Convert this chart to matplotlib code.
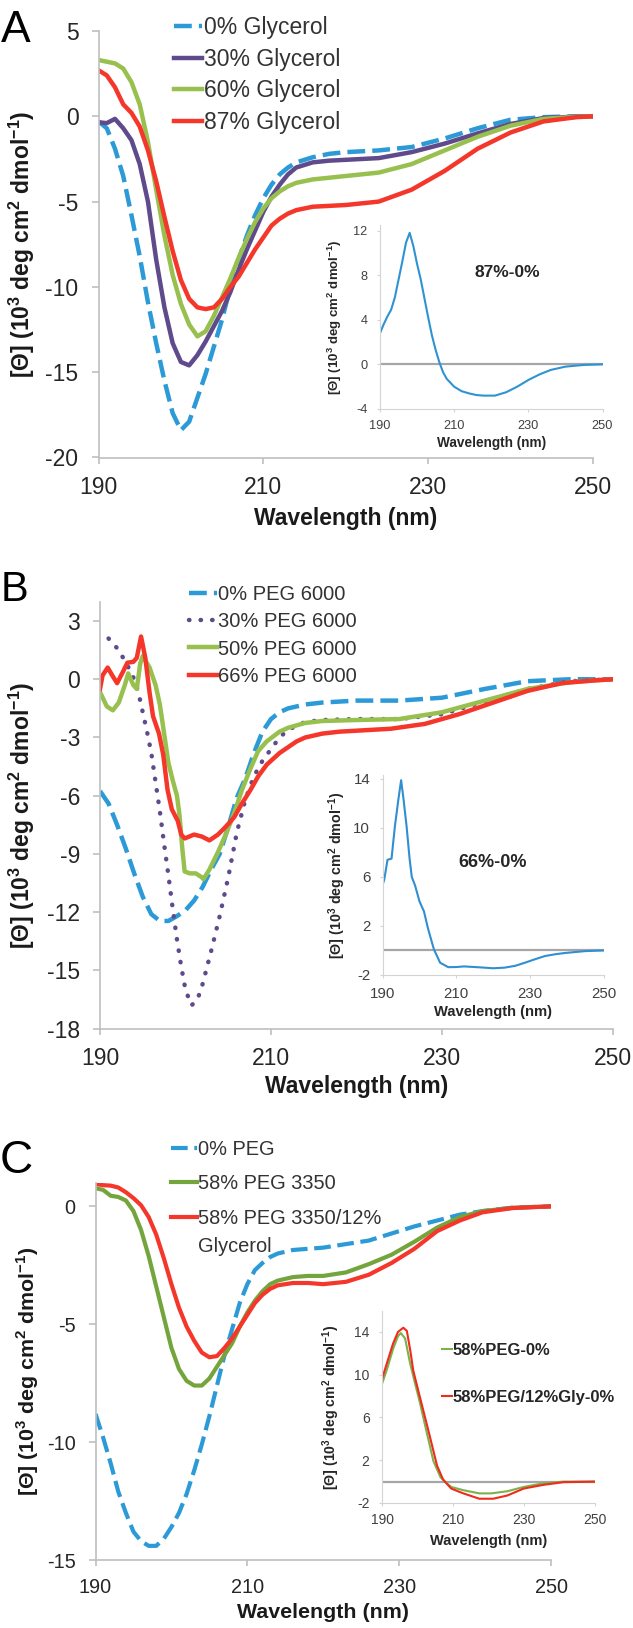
import matplotlib
matplotlib.use('Agg')
import matplotlib.pyplot as plt

plt.rcParams['font.family'] = ['Liberation Sans', 'DejaVu Sans']
plt.rcParams['axes.unicode_minus'] = False
plt.rcParams['mathtext.fontset'] = 'custom'
plt.rcParams['mathtext.rm'] = 'Liberation Sans'
plt.rcParams['mathtext.bf'] = 'Liberation Sans:bold'

# ---------------- panel A : glycerol ----------------
wl_a = [190, 191, 192, 193, 194, 195, 196, 197, 198, 199, 200, 201, 202, 203, 204, 205,
        206, 207, 208, 209, 210, 211, 212, 213, 214, 216, 218, 220, 224, 228, 232, 236,
        240, 244, 248, 250]
gly0 = [-0.3, -0.7, -1.9, -3.5, -5.8, -8.2, -10.9, -13.3, -15.5, -17.4, -18.4, -17.9, -16.5,
        -15.1, -13.5, -11.9, -10.0, -8.4, -7.0, -5.8, -4.8, -4.0, -3.4, -3.0, -2.7, -2.4,
        -2.2, -2.1, -2.0, -1.8, -1.3, -0.7, -0.2, -0.05, 0.0, 0.0]
gly30 = [-0.35, -0.4, -0.15, -0.7, -1.4, -2.8, -5.0, -8.4, -11.2, -13.3, -14.4, -14.6, -14.0,
         -13.2, -12.3, -11.4, -10.3, -9.0, -7.8, -6.7, -5.6, -4.7, -4.0, -3.4, -3.0, -2.7,
         -2.6, -2.55, -2.45, -2.1, -1.6, -1.0, -0.45, -0.1, -0.02, 0.0]
gly60 = [3.3, 3.2, 3.1, 2.8, 2.0, 0.7, -1.5, -4.3, -7.0, -9.3, -11.0, -12.2, -12.9, -12.6,
         -11.7, -10.6, -9.5, -8.3, -7.2, -6.2, -5.4, -4.8, -4.4, -4.1, -3.9, -3.7, -3.6,
         -3.5, -3.3, -2.8, -2.0, -1.2, -0.55, -0.15, -0.03, 0.0]
gly87 = [2.7, 2.4, 1.7, 0.7, 0.2, -0.6, -2.0, -3.8, -5.9, -7.9, -9.6, -10.7, -11.2, -11.3,
         -11.2, -10.7, -10.0, -9.4, -8.6, -7.8, -7.1, -6.4, -6.0, -5.7, -5.5, -5.3, -5.25,
         -5.2, -5.0, -4.3, -3.2, -1.9, -0.95, -0.3, -0.05, 0.0]
wl_ai = [190, 191, 192, 193, 194, 195, 196, 197, 198, 199, 200, 201, 202, 203, 204, 205, 206,
         207, 208, 210, 212, 214, 216, 218, 221, 224, 227, 230, 233, 236, 240, 245, 250]
diff_a = [2.8, 3.6, 4.3, 4.9, 6.0, 7.6, 9.2, 10.9, 11.8, 10.6, 9.0, 7.6, 5.9, 4.2, 2.6, 1.3,
          0.2, -0.7, -1.3, -2.0, -2.4, -2.6, -2.75, -2.8, -2.8, -2.5, -2.0, -1.4, -0.9, -0.5,
          -0.2, -0.05, 0.0]

# ---------------- panel B : PEG 6000 ----------------
wl_b0 = [190, 191, 192, 193, 194, 195, 196, 197, 198, 199, 200, 201, 202, 203, 204, 205, 206,
         207, 208, 209, 210, 211, 212, 214, 216, 220, 225, 230, 235, 240, 245, 250]
peg0 = [-5.76, -6.4, -7.5, -8.7, -10.0, -11.2, -12.1, -12.45, -12.45, -12.2, -11.9, -11.4,
        -10.7, -9.8, -9.0, -7.6, -6.1, -5.1, -3.8, -2.7, -2.05, -1.7, -1.5, -1.3, -1.2, -1.1,
        -1.1, -0.95, -0.5, -0.1, 0.0, 0.0]
wl_b30 = [191, 192, 193, 194, 194.5, 195, 195.5, 196, 196.5, 197, 197.5, 198, 198.5, 199,
          199.5, 200, 200.7, 201.4, 202, 203, 204, 205, 206, 207, 208, 209, 210, 211, 212,
          214, 216, 220, 225, 230, 235, 240, 245, 250]
peg30 = [2.1, 1.6, 0.9, 0.0, -0.7, -1.7, -2.7, -3.8, -5.3, -6.8, -8.5, -10.1, -11.8, -13.4,
         -14.8, -16.0, -16.8, -16.5, -15.7, -14.0, -12.2, -10.2, -7.9, -6.2, -5.0, -4.2, -3.6,
         -3.0, -2.6, -2.2, -2.1, -2.05, -2.05, -1.8, -1.15, -0.5, -0.1, 0.0]
wl_b50 = [190, 190.8, 191.5, 192.2, 192.9, 193.3, 193.9, 194.3, 194.7, 195, 195.8, 196.5, 197,
          197.5, 198, 198.5, 199, 199.3, 199.6, 199.9, 200.5, 201.2, 201.9, 202.1, 202.8,
          203.8, 204.7, 205.7, 206.6, 207.6, 208.5, 209.5, 211, 212, 214, 216, 220, 225, 230,
          235, 240, 245, 250]
peg50 = [-0.66, -1.4, -1.6, -1.2, -0.3, 0.3, -0.3, -0.5, 0.8, 1.2, 0.6, -0.3, -1.3, -2.8,
         -4.3, -5.2, -6.0, -7.0, -8.6, -9.9, -10.0, -10.0, -10.2, -10.3, -9.8, -8.9, -8.0,
         -6.9, -5.7, -4.6, -3.7, -3.2, -2.7, -2.5, -2.25, -2.15, -2.1, -2.05, -1.7, -1.1,
         -0.5, -0.15, 0.0]
wl_b66 = [190, 190.3, 190.9, 191.5, 192, 192.7, 193.2, 193.9, 194.3, 194.8, 195.3, 195.8,
          196.2, 196.9, 197.4, 197.9, 198.4, 199.1, 199.5, 199.9, 201, 201.9, 202.8, 203.8,
          204.7, 205.7, 206.6, 207.6, 208.5, 209.5, 210, 211, 212, 213, 214, 216, 218, 220,
          224, 228, 232, 236, 240, 244, 248, 250]
peg66 = [-0.5, 0.2, 0.6, 0.15, -0.2, 0.4, 0.85, 0.9, 1.1, 2.2, 1.1, -0.7, -1.9, -2.8, -3.9,
         -5.7, -6.7, -7.3, -8.0, -8.2, -8.0, -8.1, -8.3, -8.0, -7.6, -7.1, -6.4, -5.7, -5.0,
         -4.4, -4.2, -3.8, -3.5, -3.2, -3.0, -2.8, -2.7, -2.65, -2.55, -2.3, -1.8, -1.2,
         -0.6, -0.2, -0.05, 0.0]
wl_bi = [190, 190.4, 191.3, 192.4, 193.3, 194.2, 195, 195.6, 196.5, 197.3, 197.9, 198.8, 200,
         201.2, 202.3, 203.9, 205.6, 207.8, 210, 212.1, 215, 217.6, 220, 223.1, 226, 228.6,
         231, 234.1, 237, 239.6, 245, 250]
diff_b = [5.4, 5.75, 7.4, 7.5, 10.1, 12.2, 13.9, 12.5, 10.1, 7.5, 6.0, 5.3, 4.0, 3.2, 1.8,
          0.1, -1.0, -1.36, -1.35, -1.3, -1.35, -1.4, -1.45, -1.4, -1.25, -1.0, -0.75, -0.45,
          -0.3, -0.2, -0.05, 0.0]

# ---------------- panel C : PEG 3350 ----------------
wl_c = [190, 191, 192, 193, 194, 195, 196, 197, 198, 199, 200, 201, 202, 203, 204, 205, 206,
        207, 208, 209, 210, 211, 212, 213, 214, 216, 218, 220, 223, 226, 229, 232, 235, 238,
        241, 245, 250]
c_peg0 = [-8.8, -9.8, -10.9, -12.1, -13.0, -13.8, -14.2, -14.4, -14.4, -14.1, -13.6, -13.0,
          -12.2, -11.2, -10.1, -8.9, -7.6, -6.3, -5.2, -4.1, -3.3, -2.7, -2.4, -2.15, -2.0,
          -1.85, -1.8, -1.75, -1.6, -1.45, -1.15, -0.85, -0.6, -0.35, -0.2, -0.05, 0.0]
c_peg58 = [0.77, 0.7, 0.45, 0.4, 0.25, -0.2, -1.0, -2.1, -3.4, -4.7, -6.0, -6.9, -7.4, -7.6,
           -7.6, -7.3, -6.8, -6.3, -5.8, -5.1, -4.5, -4.0, -3.6, -3.3, -3.15, -3.0, -2.95,
           -2.95, -2.8, -2.45, -2.05, -1.5, -0.9, -0.45, -0.2, -0.06, 0.0]
c_peg58g = [0.95, 0.9, 0.88, 0.8, 0.6, 0.35, 0.05, -0.45, -1.2, -2.2, -3.3, -4.3, -5.1, -5.7,
            -6.2, -6.4, -6.35, -6.0, -5.6, -5.1, -4.6, -4.1, -3.75, -3.5, -3.35, -3.25, -3.25,
            -3.3, -3.2, -2.9, -2.4, -1.8, -1.05, -0.6, -0.25, -0.07, 0.0]
wl_cg = [190, 191.4, 193.1, 194.5, 195.3, 196.5, 197.9, 199, 200.7, 202.6, 204.5, 206.5, 208,
         209.5, 212.9, 217.4, 220.8, 225.3, 229.9, 235.5, 241.2, 250]
diff_c1 = [9.15, 10.5, 12.4, 13.6, 13.9, 13.4, 11.1, 9.6, 7.35, 4.6, 1.9, 0.4, -0.1, -0.5,
           -0.8, -1.1, -1.1, -0.9, -0.5, -0.15, 0.0, 0.0]
wl_cr = [190, 191.4, 193.1, 194.5, 196, 197, 198, 198.8, 200, 201.6, 203.5, 205.5, 207.2,
         209.5, 212.9, 217.4, 221.3, 225.3, 229.9, 235.5, 241.2, 250]
diff_c2 = [9.6, 11.1, 12.9, 14.0, 14.4, 14.1, 12.2, 10.4, 8.8, 6.7, 4.2, 1.5, 0.2, -0.65,
           -1.1, -1.6, -1.6, -1.3, -0.65, -0.3, -0.05, 0.0]

BLUE = '#2b9ad6'
PURPLE = '#5f4a8b'
GREEN = '#98c04e'
RED = '#f4372a'
GREEN_C = '#74a53c'
DASH = (0, (4, 1.6))
DOT = (0, (0.1, 2.5))

W, H = 633, 1628
fig = plt.figure(figsize=(W / 100, H / 100), dpi=100)

YLAB = r'[Θ] (10$^{\mathbf{3}}$ deg cm$^{\mathbf{2}}$ dmol$^{\mathbf{-1}}$)'


def box(x0, x1, ytop, ybot):
    return [x0 / W, 1 - ybot / H, (x1 - x0) / W, (ybot - ytop) / H]


def style_main(ax, fs, ylab_x, xlab_y, lab_fs):
    for s in ['top', 'right']:
        ax.spines[s].set_visible(False)
    for s in ['left', 'bottom']:
        ax.spines[s].set_color('#bfbfbf')
        ax.spines[s].set_linewidth(1.2)
    ax.tick_params(colors='#bfbfbf', labelcolor='#262626', labelsize=fs, width=1.2)
    ax.tick_params(axis='x', length=4.1, pad=9)
    ax.tick_params(axis='y', length=4.8, pad=9.6)
    ax.set_xlim(190, 250)
    ax.set_xticks([190, 210, 230, 250])
    ax.set_xlabel('Wavelength (nm)', fontsize=lab_fs, fontweight='bold', color='#1a1a1a')
    ax.set_ylabel(YLAB, fontsize=lab_fs, fontweight='bold', color='#1a1a1a')
    ax.xaxis.set_label_coords(0.5, xlab_y)
    ax.xaxis.label.set_va('center')
    ax.yaxis.set_label_coords(ylab_x, 0.5)
    ax.yaxis.label.set_va('center')


def style_inset(ax, fs, lab_fs, ylab_x, xlab_y, xpad):
    for s in ['top', 'right']:
        ax.spines[s].set_visible(False)
    for s in ['left', 'bottom']:
        ax.spines[s].set_color('#d4d4d4')
        ax.spines[s].set_linewidth(0.8)
    ax.tick_params(colors='#d4d4d4', labelcolor='#404040', labelsize=fs, width=0.8, length=2.5)
    ax.tick_params(axis='x', pad=xpad)
    ax.tick_params(axis='y', pad=6.5)
    ax.set_xlim(190, 250)
    ax.set_xticks([190, 210, 230, 250])
    ax.axhline(0, color='#a6a6a6', lw=1.6, zorder=1)
    ax.set_xlabel('Wavelength (nm)', fontsize=lab_fs, fontweight='bold', color='#262626')
    ax.set_ylabel(YLAB, fontsize=lab_fs - 0.3, fontweight='bold', color='#262626')
    ax.xaxis.set_label_coords(0.5, xlab_y)
    ax.xaxis.label.set_va('center')
    ax.yaxis.set_label_coords(ylab_x, 0.5)
    ax.yaxis.label.set_va('center')
    ax.patch.set_alpha(0)


# ---------- A ----------
axA = fig.add_axes(box(98.5, 593, 31, 457.5))
axA.plot(wl_a, gly0, color=BLUE, lw=3.2, ls=DASH, label='0% Glycerol')
axA.plot(wl_a, gly30, color=PURPLE, lw=3.2, label='30% Glycerol')
axA.plot(wl_a, gly60, color=GREEN, lw=3.2, label='60% Glycerol')
axA.plot(wl_a, gly87, color=RED, lw=3.2, label='87% Glycerol')
axA.set_ylim(-20, 5)
axA.set_yticks([5, 0, -5, -10, -15, -20])
style_main(axA, 16.5, -0.1547, -0.1419, 16.5)
leg = axA.legend(loc='upper left', bbox_to_anchor=(174 / W, 1 - 16 / H),
                 bbox_transform=fig.transFigure, frameon=False, fontsize=16.5,
                 handlelength=1.22, handletextpad=0.1, labelspacing=0.38,
                 borderpad=0, borderaxespad=0)
for t in leg.get_texts():
    t.set_color('#333333')

axAi = fig.add_axes(box(380, 602.5, 225, 409))
axAi.plot(wl_ai, diff_a, color='#2f93d2', lw=1.5)
axAi.set_ylim(-4, 12.5)
axAi.set_yticks([-4, 0, 4, 8, 12])
style_inset(axAi, 9.2, 9.8, -0.202, -0.185, 5.5)
axAi.text(0.571, 0.74, '87%-0%', transform=axAi.transAxes, ha='center', va='center',
          fontsize=12.5, fontweight='bold', color='#262626')

# ---------- B ----------
axB = fig.add_axes(box(100, 613, 601.6, 1028.7))
axB.plot(wl_b0, peg0, color=BLUE, lw=3.2, ls=DASH, label='0% PEG 6000')
axB.plot(wl_b30, peg30, color=PURPLE, lw=3.2, ls=DOT, dash_capstyle='round',
         label='30% PEG 6000')
axB.plot(wl_b50, peg50, color=GREEN, lw=3.2, label='50% PEG 6000')
axB.plot(wl_b66, peg66, color=RED, lw=3.2, label='66% PEG 6000')
axB.set_ylim(-18, 4)
axB.set_yticks([3, 0, -3, -6, -9, -12, -15, -18])
style_main(axB, 16.5, -0.152, -0.1365, 16.5)
leg = axB.legend(loc='upper left', bbox_to_anchor=(189 / W, 1 - 585 / H),
                 bbox_transform=fig.transFigure, frameon=False, fontsize=14.5,
                 handlelength=1.39, handletextpad=0.05, labelspacing=0.41,
                 borderpad=0, borderaxespad=0)
for t in leg.get_texts():
    t.set_color('#333333')

axBi = fig.add_axes(box(382.7, 603.6, 775.3, 975))
axBi.plot(wl_bi, diff_b, color='#2f8fd0', lw=1.5)
axBi.set_ylim(-2, 14.3)
axBi.set_yticks([-2, 2, 6, 10, 14])
style_inset(axBi, 10.8, 10.6, -0.207, -0.184, 6.5)
axBi.text(0.498, 0.561, '66%-0%', transform=axBi.transAxes, ha='center', va='center',
          fontsize=13, fontweight='bold', color='#262626')

# ---------- C ----------
axC = fig.add_axes(box(95.5, 551, 1182.8, 1560))
axC.plot(wl_c, c_peg0, color=BLUE, lw=3.0, ls=DASH, label='0% PEG')
axC.plot(wl_c, c_peg58, color=GREEN_C, lw=3.0, label='58% PEG 3350')
axC.plot(wl_c, c_peg58g, color=RED, lw=3.0, label='58% PEG 3350/12%')
axC.set_ylim(-15, 1)
axC.set_yticks([0, -5, -10, -15])
style_main(axC, 14.3, -0.148, -0.138, 15.4)
leg = axC.legend(loc='upper left', bbox_to_anchor=(171 / W, 1 - 1140 / H),
                 bbox_transform=fig.transFigure, frameon=False, fontsize=14.4,
                 handlelength=1.3, handletextpad=0.05, labelspacing=0.77,
                 borderpad=0, borderaxespad=0)
for t in leg.get_texts():
    t.set_color('#333333')
fig.text(198 / W, 1 - 1247 / H, 'Glycerol', fontsize=14.4, color='#333333',
         ha='left', va='center')

axCi = fig.add_axes(box(382, 595, 1310.6, 1503))
axCi.plot(wl_cg, diff_c1, color='#7db14a', lw=1.5, label='58%PEG-0%')
axCi.plot(wl_cr, diff_c2, color='#ee2b1c', lw=1.5, label='58%PEG/12%Gly-0%')
axCi.set_ylim(-2, 16)
axCi.set_yticks([-2, 2, 6, 10, 14])
style_inset(axCi, 10, 10.5, -0.237, -0.1975, 5)
leg = axCi.legend(loc='upper left', bbox_to_anchor=(442 / W, 1 - 1343 / H),
                  bbox_transform=fig.transFigure, frameon=False,
                  prop={'size': 12, 'weight': 'bold'},
                  handlelength=0.6, handletextpad=0.05, labelspacing=1.9,
                  borderpad=0, borderaxespad=0)
for t in leg.get_texts():
    t.set_color('#262626')

# panel letters
fig.text(1 / W, 1 - 42 / H, 'A', fontsize=32, ha='left', va='baseline')
fig.text(1 / W, 1 - 601 / H, 'B', fontsize=30, ha='left', va='baseline')
fig.text(0 / W, 1 - 1173 / H, 'C', fontsize=33, ha='left', va='baseline')

fig.savefig('out.png', dpi=100)
